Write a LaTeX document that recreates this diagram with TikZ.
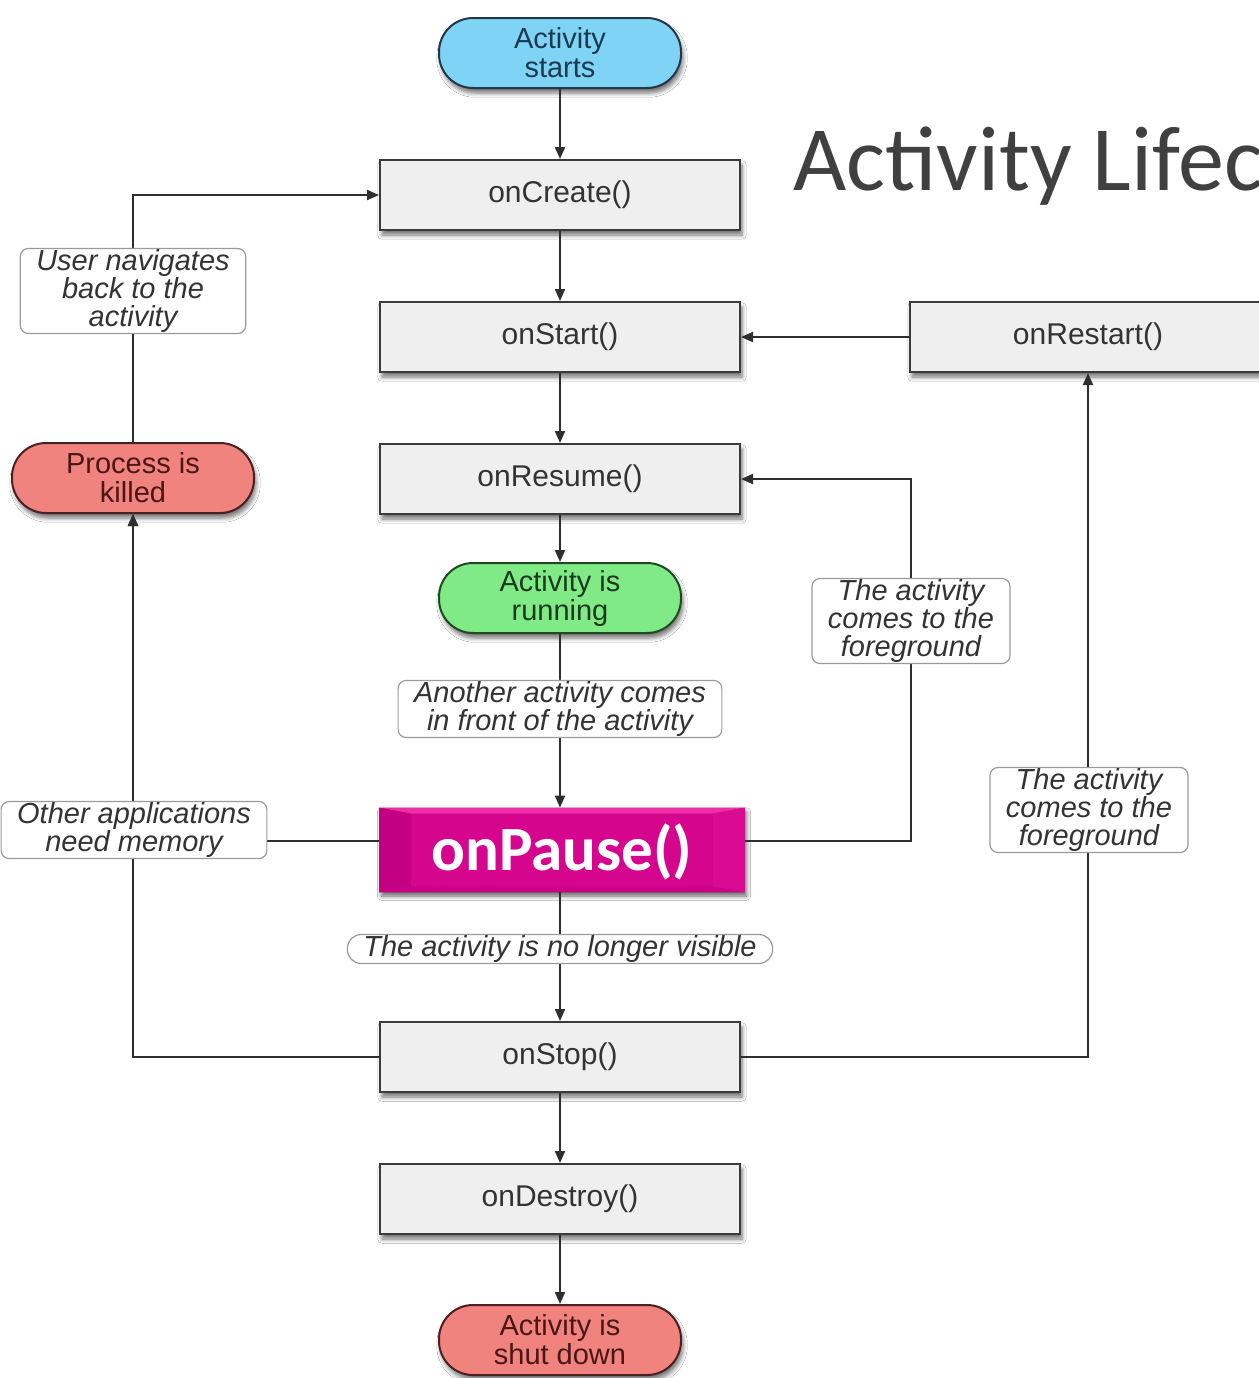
\documentclass[tikz,border=0pt]{standalone}
\usepackage{fontspec}
\setmainfont{Liberation Sans}
\newfontfamily\calibri{Carlito}
\usetikzlibrary{arrows.meta,shadows.blur}
\definecolor{linec}{HTML}{2E2E2E}
\definecolor{boxfill}{HTML}{EFEFEF}
\definecolor{boxborder}{HTML}{3A3A3A}
\definecolor{textc}{HTML}{333333}
\definecolor{bluefill}{HTML}{7FD4F6}
\definecolor{blueborder}{HTML}{22384A}
\definecolor{bluetext}{HTML}{1C3A4E}
\definecolor{greenfill}{HTML}{7FEA86}
\definecolor{greenborder}{HTML}{1F4A22}
\definecolor{greentext}{HTML}{1D3A1F}
\definecolor{redfill}{HTML}{F0837E}
\definecolor{redborder}{HTML}{4A2020}
\definecolor{redtext}{HTML}{4A1616}
\definecolor{labborder}{HTML}{9A9A9A}
\definecolor{magenta1}{HTML}{D6058E}
\definecolor{magentalight}{HTML}{EC2FA8}
\definecolor{magentadark}{HTML}{C40082}
\definecolor{titlec}{HTML}{404040}
\begin{document}
\begin{tikzpicture}[x=0.5pt,y=-0.5pt,
  shad/.style={blur shadow={shadow xshift=1pt,shadow yshift=-2.5pt,shadow blur steps=6,shadow opacity=55}},
  box/.style={draw=boxborder,line width=1pt,fill=boxfill,minimum width=180pt,minimum height=35pt,
    inner sep=0pt,font=\fontsize{15}{15}\selectfont,text=textc,shad},
  pill/.style={line width=1pt,rounded corners=17pt,minimum width=121pt,minimum height=35pt,
    inner sep=0pt,align=center,font=\fontsize{14.5}{14.5}\selectfont,shad},
  bluepill/.style={pill,draw=blueborder,fill=bluefill,text=bluetext},
  greenpill/.style={pill,draw=greenborder,fill=greenfill,text=greentext},
  redpill/.style={pill,draw=redborder,fill=redfill,text=redtext},
  lab/.style={draw=labborder,line width=0.6pt,fill=white,rounded corners=4pt,align=center,
    font=\itshape\fontsize{14.5}{14}\selectfont,text=textc,inner xsep=8pt,inner ysep=0.5pt},
  arr/.style={draw=linec,line width=1pt,-{Triangle[length=6pt,width=5pt]}},
  ln/.style={draw=linec,line width=1pt}]
\clip (0,0) rectangle (1259,1378);
\fill[white] (0,0) rectangle (1259,1378);

% title
\node[anchor=base west,inner sep=0pt,font=\calibri\fontsize{46}{46}\selectfont,text=titlec] (title) at (793,190) {Activity Lifec};

% main nodes
\node[bluepill] (begin) at (560,53) {Activity\\starts};
\node[box] (create) at (560,195) {onCreate()};
\node[box] (start) at (560,337) {onStart()};
\node[box,minimum width=178pt] (restart) at (1088,337) {onRestart()};
\node[box] (resume) at (560,479) {onResume()};
\node[greenpill] (run) at (560,598) {Activity is\\running};
\node[redpill] (killed) at (133,478) {Process is\\killed};
\node[box] (stop) at (560,1057) {onStop()};
\node[box] (destroy) at (560,1199) {onDestroy()};
\node[redpill] (shut) at (560,1340) {Activity is\\shut down};

% onPause highlighted box
\node[fill=magenta1,minimum width=182.5pt,minimum height=42pt,inner sep=0pt,
  blur shadow={shadow xshift=1pt,shadow yshift=-2pt,shadow blur steps=5,shadow opacity=60}] (pause) at (562,850) {};
\fill[magentalight] (pause.north west) -- (pause.north east) -- ([xshift=-16pt,yshift=-3pt]pause.north east) -- ([xshift=16pt,yshift=-3pt]pause.north west) -- cycle;
\fill[magentadark] (pause.north west) -- ([xshift=16pt,yshift=-3pt]pause.north west) -- ([xshift=16pt,yshift=3pt]pause.south west) -- (pause.south west) -- cycle;
\fill[magenta1!85!magentalight] (pause.north east) -- ([xshift=-16pt,yshift=-3pt]pause.north east) -- ([xshift=-16pt,yshift=3pt]pause.south east) -- (pause.south east) -- cycle;
\fill[magentadark!60!magenta1] (pause.south west) -- ([xshift=16pt,yshift=3pt]pause.south west) -- ([xshift=-16pt,yshift=3pt]pause.south east) -- (pause.south east) -- cycle;
\fill[magenta1] ([xshift=16pt,yshift=-3pt]pause.north west) rectangle ([xshift=-16pt,yshift=3pt]pause.south east);
\node[font=\calibri\bfseries\fontsize{31.5}{31.5}\selectfont,text=white,inner sep=0pt] (pausetext) at ([yshift=-1pt]pause.center) {onPause()};

% bend point of the right-hand loop
\coordinate (fgbend) at (911,621);

% connectors
\draw[arr] (begin) -- (create);
\draw[arr] (create) -- (start);
\draw[arr] (start) -- (resume);
\draw[arr] (resume) -- (run);
\draw[arr] (run.south) -- (run.south |- pause.north);
\draw[arr] (pause.south -| run.south) -- (stop.north);
\draw[arr] (stop) -- (destroy);
\draw[arr] (destroy) -- (shut);
\draw[arr] (restart.west) -- (start.east);
\draw[arr] (stop.east) -| (restart.south);
\draw[arr] ([yshift=4.5pt]pause.east) -| (fgbend) |- (resume.east);
\draw[arr] ([yshift=4.5pt]pause.west) -| (killed.south);
\draw[arr] (stop.west) -| (killed.south);
\draw[arr] (killed.north) |- (create.west);

% labels on connectors
\node[lab] (nav) at (133,291) {User navigates\\back to the\\activity};
\node[lab] (mem) at (134,830) {Other applications\\need memory};
\node[lab] (front) at (560,709) {Another activity comes\\in front of the activity};
\node[lab,rounded corners=7pt] (novis) at (560,949) {The activity is no longer visible};
\node[lab] (fg1) at (fgbend) {The activity\\comes to the\\foreground};
\node[lab] (fg2) at (1089,810) {The activity\\comes to the\\foreground};
\end{tikzpicture}
\end{document}
